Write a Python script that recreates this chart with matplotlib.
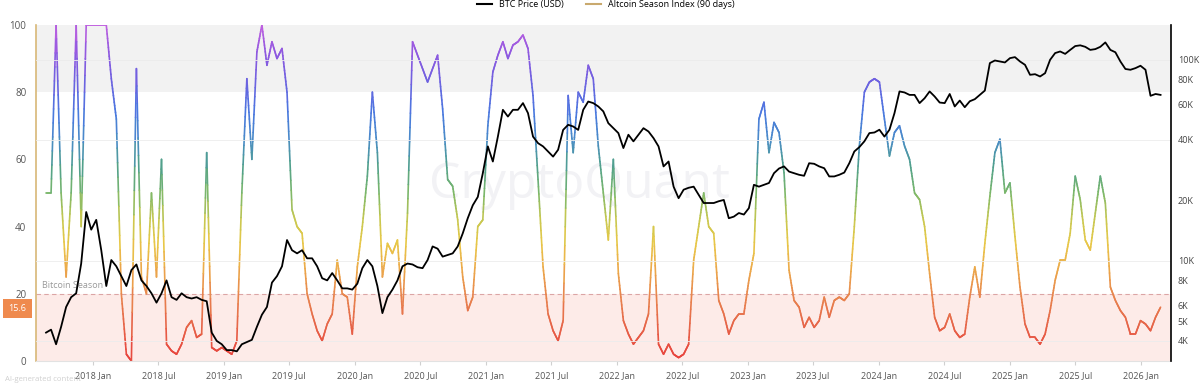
import numpy as np
import pandas as pd
import matplotlib
matplotlib.use('Agg')
import matplotlib.pyplot as plt
import matplotlib.dates as mdates
import matplotlib.transforms as mtransforms
from matplotlib.collections import LineCollection
from matplotlib.colors import LinearSegmentedColormap
from matplotlib.lines import Line2D
from matplotlib.ticker import FixedLocator, FixedFormatter, NullLocator

plt.rcParams['font.family'] = ['Open Sans', 'DejaVu Sans']

# samples every 14 days starting here
start = '2017-08-22'

alt_index = [
    50, 50, 100, 50, 25, 50, 100, 40, 100, 100,
    100, 100, 100, 84, 72, 20, 2, 0, 87, 25,
    20, 50, 25, 60, 5, 3, 2, 5, 10, 12,
    7, 8, 62, 4, 3, 4, 3, 2, 6, 50,
    84, 60, 92, 100, 88, 95, 90, 93, 80, 45,
    40, 38, 20, 14, 9, 6, 11, 14, 30, 20,
    19, 8, 28, 40, 55, 80, 62, 25, 35, 32,
    36, 14, 44, 95, 91,
    87, 83, 87, 91, 75, 54, 52, 42, 25, 15,
    19, 40, 42, 70, 86, 91, 95, 90, 94, 95,
    97, 93, 79, 54, 28, 14, 9, 6, 12, 79,
    62, 80, 77, 88, 84, 64, 50, 36, 60, 26,
    12, 8, 5, 7, 9, 14, 40, 5, 2, 5,
    2, 1, 2, 5, 30, 40, 50, 40, 38, 18,
    14, 8, 12, 14, 14, 24, 32, 72, 77, 62,
    71, 68, 56, 27, 18,
    16, 10, 13, 10, 12, 19, 13, 18, 19, 18,
    20, 40, 64, 80, 83, 84, 83, 72, 61, 68,
    70, 64, 60, 50, 48, 40, 26, 13, 9, 10,
    14, 9, 7, 8, 19, 28, 19, 35, 49, 62,
    66, 50, 53, 37, 22, 11, 7, 7, 5, 8,
    15, 24, 30, 30, 38, 55, 48, 36, 33, 44,
    55, 47, 22, 18, 15, 13, 8, 8, 12, 11,
    9, 13, 16,
]

btc_price = [
    4400, 4550, 3850, 4700, 5900, 6600, 6900, 9700, 17500, 14300,
    16000, 11300, 7500, 10100, 9400, 8400, 7500, 9000, 9600, 8000,
    7500, 6900, 6200, 6900, 8000, 6600, 6400, 6900, 6600, 6500,
    6600, 6400, 6300, 4400, 4000, 3850, 3600, 3600, 3550, 3850,
    3950, 4050, 4700, 5400, 5900, 7800, 8400, 9400, 12700, 11300,
    10900, 11300, 10300, 10300, 9400, 8200, 8000, 8700, 8000, 7300,
    7300, 7200, 7700, 9200, 10100, 9400, 7500, 5500, 6600, 7200,
    8000, 9400, 9700, 9600, 9300,
    9200, 10100, 11800, 11500, 10500, 10700, 10900, 11800, 13700, 16300,
    18900, 20800, 27300, 37100, 31200, 41500, 56400, 52200, 56400, 56400,
    60900, 54300, 41500, 38500, 37100, 35000, 33000, 35700, 44800, 47500,
    46600, 44800, 56400, 62000, 60900, 58600, 55400, 48400, 45700, 43200,
    36400, 42400, 39300, 42400, 45700, 44000, 40800, 37100, 29500, 31200,
    23400, 20500, 22600, 23100, 23400, 21300, 19400, 19400, 19400, 19800,
    20100, 16300, 16600, 17300, 17000, 18300, 23900, 23400, 23900, 24400,
    27300, 28800, 29500, 27800, 27300,
    26800, 26500, 30600, 30400, 29500, 28900, 26300, 26300, 26800, 27500,
    30600, 35000, 36800, 39300, 43200, 43500, 44900, 41500, 44900, 54300,
    69600, 68800, 66900, 66900, 60900, 64400, 69600, 65700, 61300, 60900,
    67600, 58600, 62700, 58100, 62200, 63700, 66900, 70300, 96300, 99200,
    98100, 97000, 101900, 103100, 98100, 94400, 84200, 84800, 82600, 85800,
    100000, 108000, 110000, 107000, 112000, 117000, 118000, 116000, 112000, 113000,
    116000, 122000, 112000, 109000, 98100, 90000, 89200, 90900, 93400, 89200,
    66200, 67600, 66900,
]

dates = pd.date_range(start, periods=len(alt_index), freq='14D')

price_ticks = [4000, 5000, 6000, 8000, 10000, 20000, 40000, 60000, 80000, 100000]
price_labels = ['4K', '5K', '6K', '8K', '10K', '20K', '40K', '60K', '80K', '100K']
grid_prices = [4000, 10000, 40000, 100000]
current_value = 15.6

cmap = LinearSegmentedColormap.from_list('season', [
    (0.00, '#e8403c'), (0.12, '#e66a4a'), (0.20, '#e8884e'),
    (0.28, '#ecac4a'), (0.35, '#e8c848'), (0.42, '#c8c850'),
    (0.50, '#7cb86a'), (0.58, '#50a08c'), (0.66, '#4a8cc8'),
    (0.74, '#4a78e0'), (0.84, '#7060e0'), (0.92, '#9058e0'),
    (1.00, '#c060e0')])

fig = plt.figure(figsize=(12, 3.84), dpi=100)
ax = fig.add_axes([0.03, 0.06, 0.9458, 0.875])
ax.set_ylim(0, 100)
ax.set_xlim(mdates.datestr2num('2017-07-25'), mdates.datestr2num('2026-03-25'))

ax.axhspan(80, 100, color='#f2f2f2', lw=0, zorder=0)
ax.axhspan(0, 20, color='#fdebe8', lw=0, zorder=0)
ax.axhline(20, color='#dba5a5', lw=0.8, ls=(0, (4, 3)), zorder=1)
ax.text(0.479, 0.524, 'CryptoQuant', transform=ax.transAxes, fontsize=36,
        color='#f2f2f5', ha='center', va='center', zorder=0.5)

trans = mtransforms.blended_transform_factory(ax.transAxes, ax.transData)
ax.text(0.005, 21.0, 'Bitcoin Season', transform=trans, fontsize=6.5,
        color='#9a9a9a', va='bottom')

# altcoin index line, coloured by value (each segment split so colour runs along it)
x = mdates.date2num(dates)
y = np.array(alt_index, dtype=float)
t = np.linspace(0, 1, 13)
segs, vals = [], []
for k in range(len(x) - 1):
    xs = x[k] + (x[k + 1] - x[k]) * t
    ys = y[k] + (y[k + 1] - y[k]) * t
    for j in range(len(t) - 1):
        segs.append([(xs[j], ys[j]), (xs[j + 1], ys[j + 1])])
        vals.append((ys[j] + ys[j + 1]) / 2)
lc = LineCollection(segs, cmap=cmap, norm=plt.Normalize(0, 100),
                    linewidth=1.2, capstyle='round', zorder=2)
lc.set_array(np.array(vals))
ax.add_collection(lc)

ax.annotate(f'{current_value}', xy=(0, current_value),
            xycoords=('axes fraction', 'data'), xytext=(-13.5, 0),
            textcoords='offset points', ha='center', va='center',
            fontsize=6.5, color='white', annotation_clip=False,
            bbox=dict(boxstyle='square,pad=0.6', fc='#ef8a4e', ec='none'))

ax.set_yticks([0, 20, 40, 60, 80, 100])
ax.tick_params(axis='y', length=0, labelsize=7, labelcolor='#555555', pad=7)
ax.xaxis.set_major_locator(mdates.MonthLocator(bymonth=[1, 7]))
ax.xaxis.set_major_formatter(mdates.DateFormatter('%Y %b'))
ax.tick_params(axis='x', length=3, color='#d0d0d0', labelsize=6.5,
               labelcolor='#555555', pad=4)
for s in ['top', 'right']:
    ax.spines[s].set_visible(False)
ax.spines['bottom'].set_color('#e2e2e2')
ax.spines['bottom'].set_linewidth(0.8)
ax.spines['left'].set_color('#d8b877')
ax.spines['left'].set_linewidth(1.2)

# BTC price on log right axis
ax2 = ax.twinx()
ax2.set_yscale('log')
ax2.set_ylim(3180, 149000)
for p in grid_prices:
    ax2.axhline(p, color='#ececec', lw=0.6, zorder=0)
ax2.plot(dates, btc_price, color='black', lw=1.3, zorder=3)
ax2.yaxis.set_major_locator(FixedLocator(price_ticks))
ax2.yaxis.set_major_formatter(FixedFormatter(price_labels))
ax2.yaxis.set_minor_locator(NullLocator())
ax2.tick_params(axis='y', length=0, labelsize=6.5, labelcolor='#444444', pad=5)
for s in ['top', 'left', 'bottom']:
    ax2.spines[s].set_visible(False)
ax2.spines['right'].set_color('black')
ax2.spines['right'].set_linewidth(1.2)

handles = [Line2D([], [], color='black', lw=1.5),
           Line2D([], [], color='#c9a96e', lw=1.5)]
fig.legend(handles, ['BTC Price (USD)', 'Altcoin Season Index (90 days)'],
           loc='upper center', bbox_to_anchor=(0.505, 1.02), ncol=2,
           frameon=False, fontsize=6.5, handlelength=1.6, columnspacing=2.5)

fig.text(0.004, 0.012, 'AI-generated content', fontsize=5.6, color='#d0d0d0',
         va='center')

fig.savefig('out.png', dpi=100)
